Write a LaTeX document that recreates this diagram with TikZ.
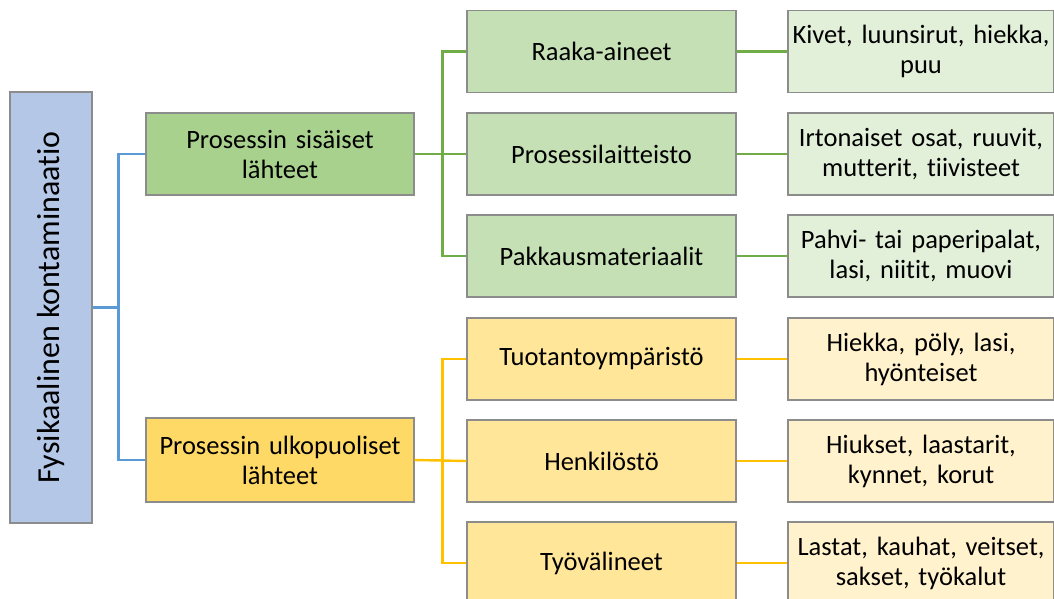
\documentclass[tikz,border=0pt]{standalone}
\usepackage{fontspec}
\setmainfont{Carlito}[Ligatures={NoCommon,NoContextual}]
\definecolor{rootfill}{HTML}{B4C7E7}
\definecolor{gA}{HTML}{A9D18E}
\definecolor{gB}{HTML}{C5E0B4}
\definecolor{gC}{HTML}{E2F0D9}
\definecolor{yA}{HTML}{FFD966}
\definecolor{yB}{HTML}{FFE699}
\definecolor{yC}{HTML}{FFF2CC}
\definecolor{bordergray}{HTML}{8C8C8C}
\definecolor{lineblue}{HTML}{5B9BD5}
\definecolor{linegreen}{HTML}{70AD47}
\definecolor{lineyellow}{HTML}{FFC000}
\begin{document}
\begin{tikzpicture}[x=1pt,y=-1pt,
  box/.style={draw=bordergray, line width=1.1pt, minimum height=82pt, inner sep=2pt, align=center, font=\fontsize{26.5}{30}\selectfont},
  lvlone/.style={box, minimum width=268pt, text width=262pt},
  lvltwo/.style={box, minimum width=269pt, text width=262pt},
  lvlthree/.style={box, minimum width=264pt, text width=262pt},
  conn/.style={line width=2.4pt}
]
\useasboundingbox (0,0) rectangle (1054,598);
\clip (0,0) rectangle (1054,598);

\node[draw=bordergray, line width=1.1pt, fill=rootfill, rotate=90, minimum width=431pt, minimum height=82pt, font=\fontsize{32}{36}\selectfont] (root) at (51,307.5) {Fysikaalinen kontaminaatio};

\node[lvlone, fill=gA] (g1) at (280,154) {Prosessin sisäiset\\lähteet};
\node[lvlone, fill=yA, minimum height=84pt] (y1) at (280,460) {Prosessin ulkopuoliset\\lähteet};

\node[lvltwo, fill=gB] (r1) at (601.5,51.5) {Raaka-aineet};
\node[lvltwo, fill=gB] (r2) at (601.5,154) {Prosessilaitteisto};
\node[lvltwo, fill=gB] (r3) at (601.5,256) {Pakkausmateriaalit};
\node[lvltwo, fill=yB] (r4) at (601.5,359) {Tuotantoympäristö};
\node[lvltwo, fill=yB] (r5) at (601.5,461) {Henkilöstö};
\node[lvltwo, fill=yB] (r6) at (601.5,563) {Työvälineet};

\node[lvlthree, fill=gC] (s1) at (921,51.5) {Kivet, luunsirut, hiekka,\\puu};
\node[lvlthree, fill=gC] (s2) at (921,154) {Irtonaiset osat, ruuvit,\\mutterit, tiivisteet};
\node[lvlthree, fill=gC] (s3) at (921,256) {Pahvi- tai paperipalat,\\lasi, niitit, muovi};
\node[lvlthree, fill=yC] (s4) at (921,359) {Hiekka, pöly, lasi,\\hyönteiset};
\node[lvlthree, fill=yC] (s5) at (921,461) {Hiukset, laastarit,\\kynnet, korut};
\node[lvlthree, fill=yC] (s6) at (921,563) {Lastat, kauhat, veitset,\\sakset, työkalut};

\draw[conn, lineblue] (g1.west) -- ++(-27,0) |- (root.south);
\draw[conn, lineblue] (y1.west) -- ++(-27,0) |- (root.south);

\draw[conn, linegreen] (g1.east) -- ++(28,0) |- (r1.west);
\draw[conn, linegreen] (g1.east) -- (r2.west);
\draw[conn, linegreen] (g1.east) -- ++(28,0) |- (r3.west);
\draw[conn, lineyellow] (y1.east) -- ++(28,0) |- (r4.west);
\draw[conn, lineyellow] (y1.east) -- (r5.west);
\draw[conn, lineyellow] (y1.east) -- ++(28,0) |- (r6.west);

\draw[conn, linegreen] (r1.east) -- (s1.west);
\draw[conn, linegreen] (r2.east) -- (s2.west);
\draw[conn, linegreen] (r3.east) -- (s3.west);
\draw[conn, lineyellow] (r4.east) -- (s4.west);
\draw[conn, lineyellow] (r5.east) -- (s5.west);
\draw[conn, lineyellow] (r6.east) -- (s6.west);
\end{tikzpicture}
\end{document}
